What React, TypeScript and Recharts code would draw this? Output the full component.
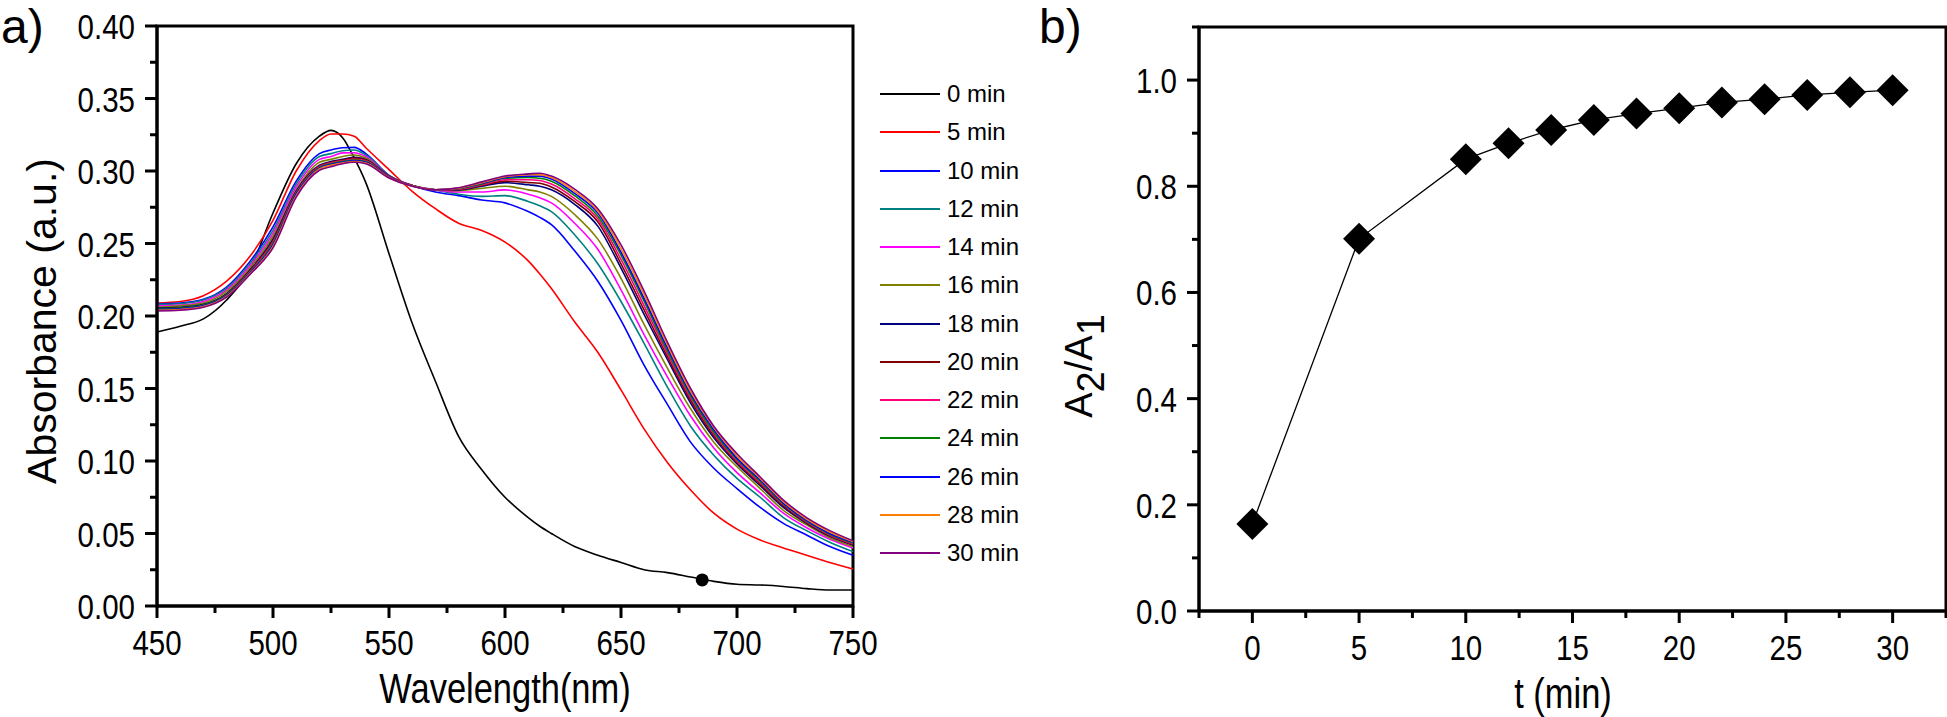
import { LineChart, Line, XAxis, YAxis, ReferenceArea, ReferenceDot } from "recharts";

// ---- panel a: absorbance spectra ----
const WAVELENGTHS = [450, 460, 470, 480, 490, 500, 510, 520, 525, 530, 535, 540, 550, 560, 570, 580, 590, 600, 610, 615, 620, 630, 640, 650, 660, 670, 680, 690, 700, 710, 720, 730, 740, 750];

const ABS_0 = [0.189, 0.193, 0.198, 0.211, 0.232, 0.271, 0.305, 0.324, 0.328, 0.323, 0.309, 0.292, 0.243, 0.195, 0.155, 0.117, 0.094, 0.075, 0.061, 0.055, 0.05, 0.041, 0.035, 0.03, 0.025, 0.023, 0.02, 0.017, 0.015, 0.0145, 0.0135, 0.012, 0.011, 0.011];
const ABS_5 = [0.209, 0.21, 0.214, 0.224, 0.241, 0.266, 0.3, 0.321, 0.3255, 0.3255, 0.324, 0.316, 0.301, 0.286, 0.274, 0.264, 0.259, 0.251, 0.238, 0.229, 0.219, 0.196, 0.175, 0.149, 0.122, 0.099, 0.08, 0.064, 0.053, 0.0455, 0.04, 0.035, 0.03, 0.0255];
const ABS_10 = [0.2085, 0.209, 0.2115, 0.22, 0.2375, 0.2615, 0.293, 0.312, 0.3145, 0.316, 0.3163, 0.312, 0.297, 0.29, 0.2855, 0.283, 0.28, 0.278, 0.272, 0.268, 0.263, 0.245, 0.224, 0.197, 0.166, 0.139, 0.113, 0.095, 0.081, 0.068, 0.057, 0.049, 0.041, 0.035];
const ABS_12 = [0.208, 0.2085, 0.211, 0.219, 0.236, 0.259, 0.291, 0.31, 0.312, 0.314, 0.3145, 0.311, 0.297, 0.29, 0.287, 0.284, 0.2825, 0.283, 0.279, 0.276, 0.272, 0.256, 0.236, 0.21, 0.181, 0.151, 0.124, 0.104, 0.088, 0.075, 0.061, 0.052, 0.044, 0.0375];
const ABS_14 = [0.207, 0.2075, 0.21, 0.218, 0.2345, 0.257, 0.289, 0.308, 0.31, 0.3125, 0.3126, 0.31, 0.2965, 0.29, 0.287, 0.2855, 0.2855, 0.287, 0.284, 0.2815, 0.278, 0.264, 0.246, 0.218, 0.187, 0.158, 0.131, 0.109, 0.092, 0.078, 0.064, 0.054, 0.046, 0.04];
const ABS_16 = [0.206, 0.207, 0.209, 0.217, 0.233, 0.255, 0.287, 0.306, 0.308, 0.31, 0.311, 0.309, 0.296, 0.29, 0.287, 0.2865, 0.288, 0.2895, 0.287, 0.2855, 0.2825, 0.27, 0.253, 0.226, 0.194, 0.164, 0.136, 0.113, 0.096, 0.081, 0.066, 0.056, 0.047, 0.041];
const ABS_18 = [0.2055, 0.206, 0.208, 0.2155, 0.2315, 0.253, 0.286, 0.304, 0.3065, 0.308, 0.3095, 0.308, 0.2965, 0.29, 0.287, 0.287, 0.2895, 0.292, 0.2905, 0.2895, 0.287, 0.277, 0.262, 0.233, 0.201, 0.17, 0.14, 0.116, 0.098, 0.083, 0.068, 0.057, 0.048, 0.042];
const ABS_20 = [0.205, 0.2055, 0.2075, 0.215, 0.231, 0.252, 0.2855, 0.3035, 0.306, 0.3075, 0.309, 0.3075, 0.2962, 0.29, 0.287, 0.2872, 0.29, 0.293, 0.292, 0.2915, 0.289, 0.279, 0.265, 0.236, 0.204, 0.172, 0.142, 0.1175, 0.099, 0.084, 0.069, 0.0575, 0.0485, 0.0425];
const ABS_22 = [0.2045, 0.205, 0.207, 0.2145, 0.2305, 0.251, 0.285, 0.303, 0.3055, 0.307, 0.308, 0.307, 0.296, 0.29, 0.287, 0.2875, 0.2905, 0.294, 0.294, 0.2935, 0.291, 0.281, 0.267, 0.239, 0.207, 0.174, 0.1435, 0.119, 0.1, 0.085, 0.07, 0.058, 0.049, 0.043];
const ABS_24 = [0.205, 0.2055, 0.2075, 0.2145, 0.23, 0.25, 0.2845, 0.3025, 0.305, 0.3065, 0.3075, 0.3065, 0.2958, 0.2898, 0.287, 0.2878, 0.291, 0.295, 0.2955, 0.295, 0.293, 0.283, 0.269, 0.242, 0.21, 0.176, 0.145, 0.12, 0.101, 0.086, 0.0705, 0.0585, 0.0495, 0.0435];
const ABS_26 = [0.2045, 0.205, 0.207, 0.214, 0.2295, 0.249, 0.284, 0.302, 0.3045, 0.306, 0.307, 0.306, 0.2956, 0.2897, 0.287, 0.288, 0.2915, 0.2955, 0.2965, 0.2965, 0.2945, 0.2845, 0.271, 0.244, 0.212, 0.178, 0.1465, 0.1215, 0.102, 0.087, 0.071, 0.059, 0.05, 0.044];
const ABS_28 = [0.204, 0.2045, 0.2065, 0.2135, 0.229, 0.248, 0.283, 0.3015, 0.304, 0.3055, 0.3065, 0.3055, 0.2954, 0.2896, 0.287, 0.2882, 0.292, 0.296, 0.2975, 0.2975, 0.2955, 0.286, 0.2725, 0.2465, 0.2145, 0.18, 0.148, 0.123, 0.1035, 0.088, 0.072, 0.06, 0.051, 0.0445];
const ABS_30 = [0.2035, 0.204, 0.206, 0.213, 0.2285, 0.247, 0.282, 0.3005, 0.303, 0.305, 0.306, 0.305, 0.2952, 0.2895, 0.287, 0.2885, 0.2925, 0.2965, 0.298, 0.2985, 0.2965, 0.2875, 0.274, 0.249, 0.217, 0.182, 0.15, 0.124, 0.105, 0.089, 0.073, 0.061, 0.052, 0.045];

const SERIES = [
  { key: "m0", label: "0 min", color: "#000000", values: ABS_0 },
  { key: "m5", label: "5 min", color: "#ff0000", values: ABS_5 },
  { key: "m10", label: "10 min", color: "#0000ff", values: ABS_10 },
  { key: "m12", label: "12 min", color: "#008080", values: ABS_12 },
  { key: "m14", label: "14 min", color: "#ff00ff", values: ABS_14 },
  { key: "m16", label: "16 min", color: "#808000", values: ABS_16 },
  { key: "m18", label: "18 min", color: "#000080", values: ABS_18 },
  { key: "m20", label: "20 min", color: "#800000", values: ABS_20 },
  { key: "m22", label: "22 min", color: "#ff0080", values: ABS_22 },
  { key: "m24", label: "24 min", color: "#008000", values: ABS_24 },
  { key: "m26", label: "26 min", color: "#0000ff", values: ABS_26 },
  { key: "m28", label: "28 min", color: "#ff8000", values: ABS_28 },
  { key: "m30", label: "30 min", color: "#800080", values: ABS_30 },
];

// stray marker on the 0 min trace
const MARK_WL = 685;
const MARK_ABS = 0.018;

const WL_TICKS = [450, 475, 500, 525, 550, 575, 600, 625, 650, 675, 700, 725, 750];
const ABS_TICKS = [0, 0.025, 0.05, 0.075, 0.1, 0.125, 0.15, 0.175, 0.2, 0.225, 0.25, 0.275, 0.3, 0.325, 0.35, 0.375, 0.4];

// ---- panel b: A2/A1 ratio ----
const TIMES = [0, 5, 10, 12, 14, 16, 18, 20, 22, 24, 26, 28, 30];
const RATIO = [0.164, 0.701, 0.851, 0.881, 0.906, 0.925, 0.937, 0.947, 0.958, 0.964, 0.972, 0.977, 0.981];

const T_TICKS = [-2.5, 0, 2.5, 5, 7.5, 10, 12.5, 15, 17.5, 20, 22.5, 25, 27.5, 30, 32.5];
const RATIO_TICKS = [0, 0.1, 0.2, 0.3, 0.4, 0.5, 0.6, 0.7, 0.8, 0.9, 1.0, 1.1];

const specRows = WAVELENGTHS.map((wl, i) => {
  const row: Record<string, number> = { wl };
  SERIES.forEach((s) => {
    row[s.key] = s.values[i];
  });
  return row;
});
const ratioRows = TIMES.map((t, i) => ({ t, r: RATIO[i] }));

// no narrow font installed, so squeeze Liberation Sans horizontally
const SANS = "'Liberation Sans',Arial,sans-serif";
const SQUEEZE = 0.82;
const AXIS = { stroke: "#000", strokeWidth: 3 };

function NarrowText({ x, y, anchor, children }: any) {
  return (
    <text
      transform={`translate(${x} ${y}) scale(${SQUEEZE} 1)`}
      textAnchor={anchor}
      fontSize={36}
      fontFamily={SANS}
      fill="#000"
    >
      {children}
    </text>
  );
}

function BottomTick(props: any) {
  const { x, y, payload, isMajor, fmt } = props;
  const major = isMajor(payload.value);
  return (
    <g>
      <line x1={x} x2={x} y1={y} y2={y + (major ? 12 : 7)} stroke="#000" strokeWidth={3} />
      {major && (
        <NarrowText x={x} y={y + 49} anchor="middle">
          {fmt(payload.value)}
        </NarrowText>
      )}
    </g>
  );
}

function LeftTick(props: any) {
  const { x, y, payload, isMajor, fmt } = props;
  const major = isMajor(payload.value);
  return (
    <g>
      <line x1={x - (major ? 12 : 7)} x2={x} y1={y} y2={y} stroke="#000" strokeWidth={3} />
      {major && (
        <NarrowText x={x - 22} y={y + 13} anchor="end">
          {fmt(payload.value)}
        </NarrowText>
      )}
    </g>
  );
}

function Diamond(props: any) {
  const { cx, cy } = props;
  if (cx == null || cy == null) return null;
  const h = 16;
  return <polygon points={`${cx},${cy - h} ${cx + h},${cy} ${cx},${cy + h} ${cx - h},${cy}`} fill="#000" />;
}

const label = (text: any, style: React.CSSProperties) => (
  <div style={{ position: "absolute", whiteSpace: "nowrap", lineHeight: 1.1, color: "#000", fontFamily: SANS, ...style }}>
    {text}
  </div>
);

export default function App() {
  return (
    <div style={{ position: "absolute", left: 0, top: 0, width: 1947, height: 717, background: "#fff", overflow: "hidden" }}>
      {/* panel a */}
      <div style={{ position: "absolute", left: 0, top: 0 }}>
        <LineChart width={880} height={717} data={specRows} margin={{ top: 26, right: 27, bottom: 0, left: 0 }}>
          <XAxis
            dataKey="wl"
            type="number"
            domain={[450, 750]}
            ticks={WL_TICKS}
            interval={0}
            height={111}
            tickSize={0}
            tickMargin={0}
            tickLine={false}
            axisLine={AXIS}
            tick={(p: any) => <BottomTick {...p} isMajor={(v: number) => v % 50 === 0} fmt={(v: number) => String(v)} />}
          />
          <YAxis
            type="number"
            domain={[0, 0.4]}
            ticks={ABS_TICKS}
            interval={0}
            width={157}
            tickSize={0}
            tickMargin={0}
            tickLine={false}
            axisLine={AXIS}
            tick={(p: any) => (
              <LeftTick {...p} isMajor={(v: number) => Math.round(v * 1000) % 50 === 0} fmt={(v: number) => v.toFixed(2)} />
            )}
          />
          {SERIES.map((s) => (
            <Line
              key={s.key}
              type="monotone"
              dataKey={s.key}
              stroke={s.color}
              strokeWidth={1.6}
              dot={false}
              isAnimationActive={false}
            />
          ))}
          <ReferenceDot x={MARK_WL} y={MARK_ABS} r={6.5} fill="#000" stroke="none" />
          <ReferenceArea x1={450} x2={750} y1={0} y2={0.4} fill="none" stroke="#000" strokeWidth={3} />
        </LineChart>
      </div>

      {label("a)", { left: 1, top: 1, fontSize: 48 })}
      {label("Absorbance (a.u.)", {
        left: 43,
        top: 321,
        transform: "translate(-50%,-50%) rotate(-90deg)",
        fontSize: 41,
      })}
      {label("Wavelength(nm)", {
        left: 505,
        top: 689,
        transform: `translate(-50%,-50%) scaleX(${SQUEEZE})`,
        fontSize: 42,
      })}

      {/* legend */}
      <div style={{ position: "absolute", left: 880, top: 75 }}>
        {SERIES.map((s) => (
          <div key={s.key} style={{ display: "flex", alignItems: "center", height: 38.25 }}>
            <div style={{ width: 60, height: 2, background: s.color }} />
            <div style={{ marginLeft: 7, fontSize: 24, fontFamily: SANS, lineHeight: 1 }}>{s.label}</div>
          </div>
        ))}
      </div>

      {/* panel b */}
      <div style={{ position: "absolute", left: 1040, top: 0 }}>
        <LineChart width={907} height={717} data={ratioRows} margin={{ top: 27, right: 1, bottom: 0, left: 0 }}>
          <XAxis
            dataKey="t"
            type="number"
            domain={[-2.5, 32.5]}
            ticks={T_TICKS}
            interval={0}
            height={106}
            tickSize={0}
            tickMargin={0}
            tickLine={false}
            axisLine={AXIS}
            tick={(p: any) => <BottomTick {...p} isMajor={(v: number) => v % 5 === 0} fmt={(v: number) => String(v)} />}
          />
          <YAxis
            type="number"
            domain={[0, 1.1]}
            ticks={RATIO_TICKS}
            interval={0}
            width={159}
            tickSize={0}
            tickMargin={0}
            tickLine={false}
            axisLine={AXIS}
            tick={(p: any) => (
              <LeftTick
                {...p}
                isMajor={(v: number) => Math.round(v * 10) % 2 === 0 && v < 1.05}
                fmt={(v: number) => v.toFixed(1)}
              />
            )}
          />
          <Line
            type="linear"
            dataKey="r"
            stroke="#000"
            strokeWidth={1.3}
            dot={<Diamond />}
            isAnimationActive={false}
          />
          <ReferenceArea x1={-2.5} x2={32.5} y1={0} y2={1.1} fill="none" stroke="#000" strokeWidth={3} />
        </LineChart>
      </div>

      {label("b)", { left: 1039, top: 1, fontSize: 48 })}
      {label(
        <>
          A<span style={{ position: "relative", top: 12 }}>2</span>/A<span style={{ position: "relative", top: 12 }}>1</span>
        </>,
        {
          left: 1080,
          top: 366,
          transform: "translate(-50%,-50%) rotate(-90deg)",
          fontSize: 38,
        }
      )}
      {label("t (min)", {
        left: 1563,
        top: 694,
        transform: `translate(-50%,-50%) scaleX(${SQUEEZE})`,
        fontSize: 42,
      })}
    </div>
  );
}
